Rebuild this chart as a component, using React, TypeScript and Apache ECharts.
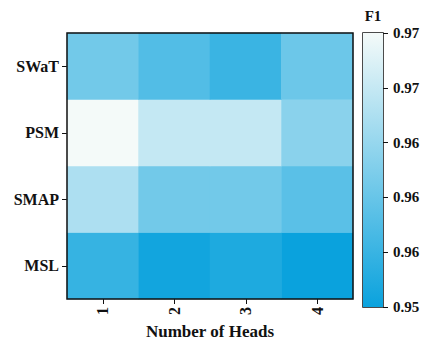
import React, { useEffect, useRef } from "react";
import * as echarts from "echarts";

const heads = ["1", "2", "3", "4"];
const datasets = ["MSL", "SMAP", "PSM", "SWaT"]; // bottom to top
const f1MSL = [0.9563, 0.9536, 0.9545, 0.953];
const f1SMAP = [0.9652, 0.9608, 0.9608, 0.959];
const f1PSM = [0.9705, 0.9669, 0.9669, 0.9626];
const f1SWaT = [0.9608, 0.9584, 0.9566, 0.9603];
const colorbarTicks = ["0.95", "0.96", "0.96", "0.96", "0.97", "0.97"];
const vMin = 0.953;
const vMax = 0.9705;
const cDark = "#0aa2dd";
const cLight = "#f4faf9";

export default function App() {
  const ref = useRef<HTMLDivElement>(null);
  useEffect(() => {
    const chart = echarts.init(ref.current!, null, { renderer: "svg" });
    const rows = [f1MSL, f1SMAP, f1PSM, f1SWaT];
    const data: [number, number, number][] = [];
    rows.forEach((r, yi) => r.forEach((v, xi) => data.push([xi, yi, v])));
    const font = "Liberation Serif";
    chart.setOption({
      animation: false,
      grid: [
        { left: 67, top: 33, width: 286, height: 274, show: true, borderColor: "#111", borderWidth: 1.5, backgroundColor: "transparent", z: 10 },
        { left: 363, top: 33, width: 20, height: 274, show: true, borderColor: "#111", borderWidth: 1.5, backgroundColor: "transparent" },
      ],
      xAxis: [
        {
          type: "category",
          data: heads,
          gridIndex: 0,
          name: "Number of Heads",
          nameLocation: "middle",
          nameGap: 24,
          nameTextStyle: { fontFamily: font, fontWeight: "bold", fontSize: 17, color: "#111" },
          axisLine: { show: false },
          axisTick: { show: true, alignWithLabel: true, length: 5, lineStyle: { color: "#111" } },
          axisLabel: { rotate: 90, fontFamily: font, fontWeight: "bold", fontSize: 16, color: "#111", margin: 8 },
          splitLine: { show: false },
        },
        {
          type: "category",
          data: ["F1"],
          gridIndex: 1,
          show: false,
        },
      ],
      yAxis: [
        {
          type: "category",
          data: datasets,
          gridIndex: 0,
          axisLine: { show: false },
          axisTick: { show: true, alignWithLabel: true, length: 5, lineStyle: { color: "#111" } },
          axisLabel: { fontFamily: font, fontWeight: "bold", fontSize: 16, color: "#111", margin: 8 },
          splitLine: { show: false },
        },
        {
          type: "value",
          gridIndex: 1,
          position: "right",
          min: 0,
          max: 5,
          interval: 1,
          name: "F1",
          nameLocation: "end",
          nameGap: 10,
          nameTextStyle: { fontFamily: font, fontWeight: "bold", fontSize: 15, color: "#111", align: "center", padding: [0, 0, 0, -20] },
          axisLine: { show: false },
          axisTick: { show: true, length: 5, lineStyle: { color: "#111" } },
          axisLabel: {
            fontFamily: font,
            fontWeight: "bold",
            fontSize: 15,
            color: "#111",
            margin: 10,
            formatter: (v: number) => colorbarTicks[Math.round(v)] ?? "",
          },
          splitLine: { show: false },
        },
      ],
      visualMap: {
        show: false,
        min: vMin,
        max: vMax,
        dimension: 2,
        seriesIndex: 0,
        inRange: { color: [cDark, cLight] },
      },
      series: [
        {
          type: "heatmap",
          xAxisIndex: 0,
          yAxisIndex: 0,
          data,
          itemStyle: { borderWidth: 0 },
        },
        {
          type: "bar",
          xAxisIndex: 1,
          yAxisIndex: 1,
          data: [5],
          barWidth: "100%",
          itemStyle: {
            color: new echarts.graphic.LinearGradient(0, 1, 0, 0, [
              { offset: 0, color: cDark },
              { offset: 1, color: cLight },
            ]),
          },
        },
      ],
    });
    return () => chart.dispose();
  }, []);
  return <div ref={ref} style={{ width: 432, height: 345, position: "absolute", left: 0, top: 0 }} />;
}
